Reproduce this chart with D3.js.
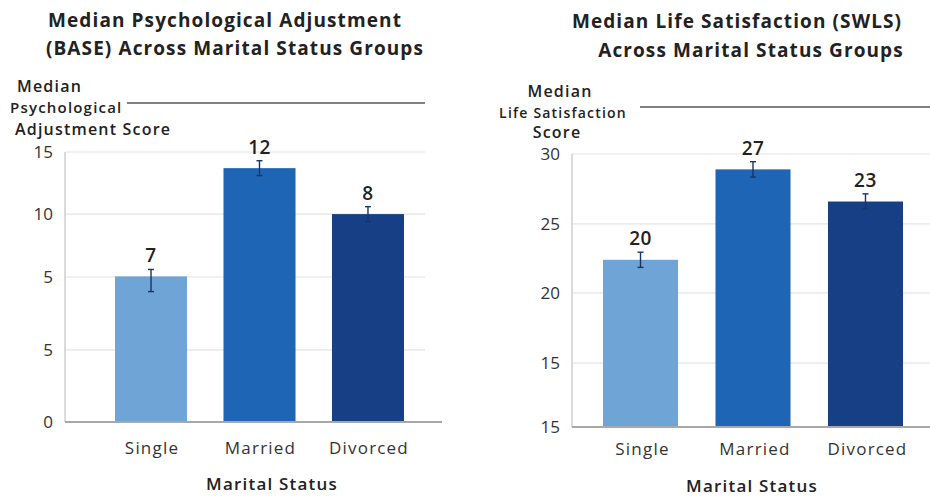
<!DOCTYPE html>
<html>
<head>
<meta charset="utf-8">
<script src="https://cdn.jsdelivr.net/npm/d3@7"></script>
<style>
  html, body { margin: 0; padding: 0; background: #fff; }
  svg { display: block; font-family: "Open Sans", "Noto Sans", sans-serif; }
</style>
</head>
<body>
<svg id="chart" width="930" height="498"></svg>
<script>
// ---------- DATA ----------
const categories = ["Single", "Married", "Divorced"];

// Left chart: Psychological Adjustment (BASE)
const baseValues = [5.05, 13.7, 10.0];
const baseErrors = [0.55, 0.6, 0.6];
const baseBarLabels = ["7", "12", "8"];
const baseTickValues = [0, 2.5, 5, 10, 15];
const baseTickLabels = ["0", "5", "5", "10", "15"];

// Right chart: Life Satisfaction (SWLS)
const swlsValues = [22.4, 28.9, 26.6];
const swlsErrors = [0.55, 0.55, 0.55];
const swlsBarLabels = ["20", "27", "23"];
const swlsTickValues = [10, 15, 20, 25, 30];
const swlsTickLabels = ["15", "15", "20", "25", "30"];

const barColors = ["#6fa4d7", "#1f65b6", "#163f86"];

// ---------- LAYOUT ----------
const svg = d3.select("#chart");

function drawChart(cfg) {
  const g = svg.append("g");
  const top = cfg.top, bottom = cfg.bottom, h = bottom - top;

  // piecewise linear y scale (axis of the source is not evenly spaced)
  const y = d3.scaleLinear()
    .domain(cfg.tickValues)
    .range(cfg.tickFractions.map(f => bottom - f * h));

  const x = d3.scaleBand()
    .domain(categories)
    .range(cfg.barRange)
    .paddingInner(cfg.padInner)
    .paddingOuter(0);

  // titles
  g.append("g").selectAll("text").data(cfg.title).join("text")
    .attr("x", (d, i) => cfg.titleX[i])
    .attr("y", (d, i) => cfg.titleY[i])
    .attr("text-anchor", "middle")
    .attr("font-size", 19).attr("font-weight", 700).attr("fill", "#222")
    .attr("letter-spacing", 1.1)
    .text(d => d);

  // y-axis title
  g.append("g").selectAll("text").data(cfg.yTitle).join("text")
    .attr("x", (d, i) => cfg.yTitleX[i])
    .attr("y", (d, i) => cfg.yTitleY[i])
    .attr("text-anchor", cfg.yTitleAnchor)
    .attr("font-size", (d, i) => cfg.yTitleSize[i])
    .attr("letter-spacing", 1.2)
    .attr("font-weight", 600).attr("fill", "#222")
    .text(d => d);

  // rule next to y title
  g.append("line")
    .attr("x1", cfg.ruleX[0]).attr("x2", cfg.ruleX[1])
    .attr("y1", cfg.ruleY).attr("y2", cfg.ruleY)
    .attr("stroke", "#555").attr("stroke-width", 1.3);

  // gridlines
  g.append("g").selectAll("line").data(cfg.tickValues.slice(1)).join("line")
    .attr("x1", cfg.left).attr("x2", cfg.gridRight)
    .attr("y1", d => y(d)).attr("y2", d => y(d))
    .attr("stroke", "#e4e4e4").attr("stroke-width", 1.2);

  // y axis line
  g.append("line")
    .attr("x1", cfg.left).attr("x2", cfg.left)
    .attr("y1", top).attr("y2", bottom)
    .attr("stroke", "#cfcfcf").attr("stroke-width", 1.5);

  // tick labels
  g.append("g").selectAll("text").data(cfg.tickValues).join("text")
    .attr("x", cfg.left - 12)
    .attr("y", d => y(d))
    .attr("dy", "0.36em")
    .attr("text-anchor", "end")
    .attr("font-size", 17).attr("fill", "#333")
    .text((d, i) => cfg.tickLabels[i]);

  // bars
  const data = categories.map((c, i) => ({
    c, v: cfg.values[i], e: cfg.errors[i], lab: cfg.barLabels[i], col: barColors[i]
  }));

  g.append("g").selectAll("rect").data(data).join("rect")
    .attr("x", d => x(d.c))
    .attr("width", x.bandwidth())
    .attr("y", d => y(d.v))
    .attr("height", d => bottom - y(d.v))
    .attr("fill", d => d.col);

  // baseline
  g.append("line")
    .attr("x1", cfg.left).attr("x2", cfg.baseRight)
    .attr("y1", bottom).attr("y2", bottom)
    .attr("stroke", "#a8a8a8").attr("stroke-width", 2);

  // error bars
  const eb = g.append("g").attr("stroke", "#183563").attr("stroke-width", 1.4);
  data.forEach(d => {
    const cx = x(d.c) + x.bandwidth() / 2;
    eb.append("line").attr("x1", cx).attr("x2", cx)
      .attr("y1", y(d.v + d.e)).attr("y2", y(d.v - d.e));
    [d.v + d.e, d.v - d.e].forEach(val => {
      eb.append("line").attr("x1", cx - 3).attr("x2", cx + 3)
        .attr("y1", y(val)).attr("y2", y(val));
    });
  });

  // value labels
  g.append("g").selectAll("text").data(data).join("text")
    .attr("x", d => x(d.c) + x.bandwidth() / 2)
    .attr("y", d => y(d.v + d.e) - 7)
    .attr("text-anchor", "middle")
    .attr("font-size", 19).attr("font-weight", 600).attr("fill", "#222")
    .attr("letter-spacing", 0.5)
    .text(d => d.lab);

  // category labels
  g.append("g").selectAll("text").data(categories).join("text")
    .attr("x", d => x(d) + x.bandwidth() / 2 + cfg.catShift)
    .attr("y", cfg.catY)
    .attr("text-anchor", "middle")
    .attr("font-size", 17).attr("fill", "#333")
    .attr("letter-spacing", 1.2)
    .text(d => d);

  // x axis title
  g.append("text")
    .attr("x", cfg.xTitleX).attr("y", cfg.xTitleY)
    .attr("text-anchor", "middle")
    .attr("font-size", 17).attr("font-weight", 600).attr("fill", "#222")
    .attr("letter-spacing", 1.2)
    .text("Marital Status");
}

drawChart({
  title: ["Median Psychological Adjustment", "(BASE) Across Marital Status Groups"],
  titleX: [225, 235], titleY: [27, 55],
  yTitle: ["Median", "Psychological", "Adjustment Score"],
  yTitleX: [17, 10, 15], yTitleY: [92, 113, 135], yTitleSize: [16, 15, 16],
  yTitleAnchor: "start",
  ruleX: [127, 425], ruleY: 103,
  left: 65, top: 152, bottom: 422, gridRight: 425, baseRight: 442,
  tickValues: baseTickValues, tickLabels: baseTickLabels,
  tickFractions: [0, 0.267, 0.537, 0.770, 1],
  barRange: [115, 404], padInner: 0.336, catShift: 1,
  values: baseValues, errors: baseErrors, barLabels: baseBarLabels,
  catY: 454, xTitleX: 272, xTitleY: 490
});

drawChart({
  title: ["Median Life Satisfaction (SWLS)", "Across Marital Status Groups"],
  titleX: [737, 751], titleY: [28, 57],
  yTitle: ["Median", "Life Satisfaction", "Score"],
  yTitleX: [560, 563, 557], yTitleY: [97, 118, 138], yTitleSize: [16, 14, 16],
  yTitleAnchor: "middle",
  ruleX: [640, 930], ruleY: 107,
  left: 572, top: 154, bottom: 427, gridRight: 930, baseRight: 930,
  tickValues: swlsTickValues, tickLabels: swlsTickLabels,
  tickFractions: [0, 0.234, 0.491, 0.744, 1],
  barRange: [603, 903], padInner: 0.333, catShift: 2,
  values: swlsValues, errors: swlsErrors, barLabels: swlsBarLabels,
  catY: 455, xTitleX: 752, xTitleY: 492
});
</script>
</body>
</html>
